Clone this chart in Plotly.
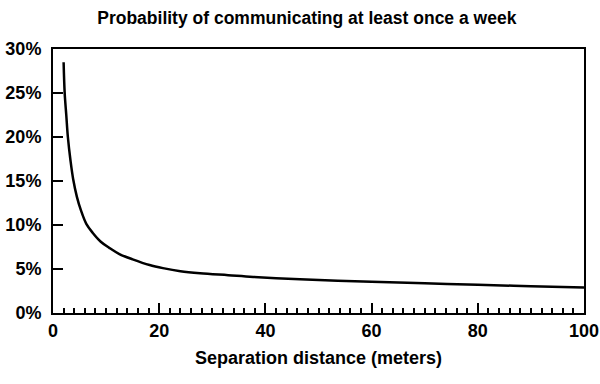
import plotly.graph_objects as go

distance_m = [2, 2.2, 2.5, 2.8, 3.3, 3.8, 4.5, 5.3, 6.3, 7.5, 9, 10.6, 12.5, 15, 18.2,
              20.7, 24, 27.7, 33, 37.7, 46.5, 60, 70, 80, 90, 100]
probability = [0.285, 0.25, 0.225, 0.20, 0.173, 0.152, 0.132, 0.116, 0.101, 0.091, 0.081,
               0.074, 0.067, 0.061, 0.0545, 0.051, 0.0475, 0.0452, 0.043, 0.041, 0.0383, 0.0355,
               0.0338, 0.032, 0.0305, 0.029]

title_text = "Probability of communicating at least once a week"
x_title = "Separation distance (meters)"

FONT = "Liberation Sans, Arial, Helvetica, sans-serif"

fig = go.Figure()
fig.add_trace(go.Scatter(
    x=distance_m, y=probability, mode="lines",
    line=dict(color="black", width=2.5, shape="spline", smoothing=1.0),
    showlegend=False, hoverinfo="skip",
))

fig.update_layout(
    width=600, height=384,
    margin=dict(l=53, r=16, t=49, b=71),
    paper_bgcolor="white", plot_bgcolor="white",
    font=dict(family=FONT, color="black", size=18, weight="bold"),
    title=dict(text=title_text, x=0.478, xref="paper", xanchor="center",
               y=0.953, yref="container", yanchor="middle",
               font=dict(family=FONT, size=17.5, weight="bold", color="black")),
)

fig.update_xaxes(
    range=[0, 100], dtick=20, tick0=0, automargin=False,
    showgrid=False, zeroline=False,
    showline=True, linecolor="black", linewidth=2, mirror=True,
    ticks="inside", ticklen=10, tickwidth=2, tickcolor="black",
    minor=dict(dtick=2, ticks="inside", ticklen=5, tickwidth=1.5, tickcolor="black", showgrid=False),
    tickfont=dict(family=FONT, size=18, weight="bold"),
    title=dict(text=x_title, standoff=12, font=dict(family=FONT, size=18, weight="bold")),
)
fig.update_yaxes(
    range=[0, 0.30], dtick=0.05, tickformat=".0%", automargin=False,
    showgrid=False, zeroline=False,
    showline=True, linecolor="black", linewidth=2, mirror=True,
    ticks="inside", ticklen=10, tickwidth=2, tickcolor="black",
    tickfont=dict(family=FONT, size=18, weight="bold"),
    ticklabelstandoff=6,
)

fig.write_html("out.html", config={"displayModeBar": False},
               post_script="document.body.style.margin='0';document.body.style.overflow='hidden';")
